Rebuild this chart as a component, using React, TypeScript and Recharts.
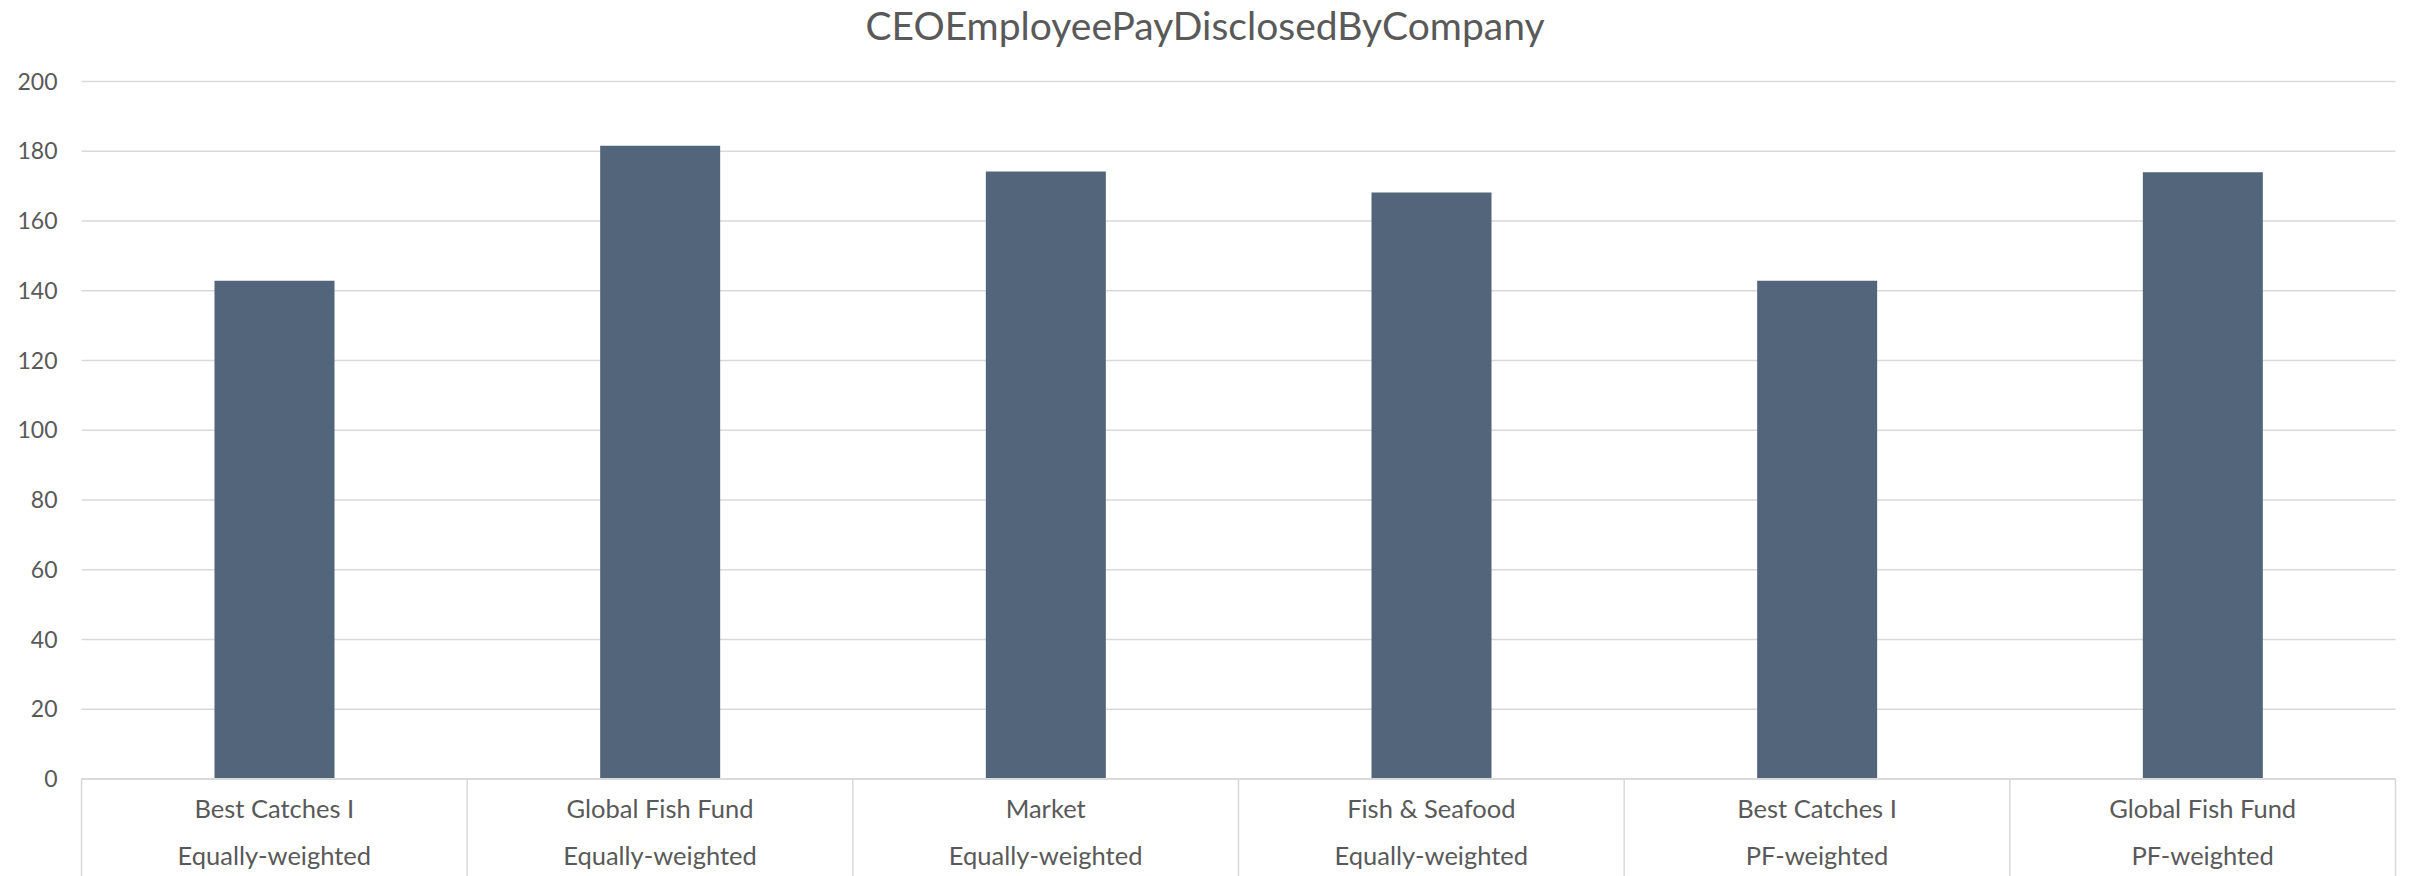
import { BarChart, Bar, XAxis, YAxis, CartesianGrid } from "recharts";

const categories = [
  "Best Catches I",
  "Global Fish Fund",
  "Market",
  "Fish & Seafood",
  "Best Catches I",
  "Global Fish Fund",
];
const weightings = [
  "Equally-weighted",
  "Equally-weighted",
  "Equally-weighted",
  "Equally-weighted",
  "PF-weighted",
  "PF-weighted",
];
const payValues = [142.9, 181.6, 174.2, 168.2, 142.9, 174.0];
const yTicks = [0, 20, 40, 60, 80, 100, 120, 140, 160, 180, 200];

const W = 2410;
const H = 876;
const PLOT_LEFT = 81.5;
const PLOT_RIGHT = 2395.5;
const BAND = (PLOT_RIGHT - PLOT_LEFT) / categories.length;
const TEXT = "#595959";
const GRID = "#d9d9d9";
const FONT = "Lato, 'Open Sans', sans-serif";

const data = categories.map((c, i) => ({
  key: i,
  category: c,
  weighting: weightings[i],
  value: payValues[i],
}));

function CategoryTick(props: any) {
  const { x, y, payload, index } = props;
  const i = payload.value as number;
  const last = index === categories.length - 1;
  return (
    <g>
      <line x1={x - BAND / 2} y1={y} x2={x - BAND / 2} y2={H} stroke={GRID} strokeWidth={1.5} />
      {last && (
        <line x1={x + BAND / 2} y1={y} x2={x + BAND / 2} y2={H} stroke={GRID} strokeWidth={1.5} />
      )}
      <text x={x} y={y + 29} textAnchor="middle" dominantBaseline="central" fill={TEXT} fontSize={25.5} fontFamily={FONT}>
        {categories[i]}
      </text>
      <text x={x} y={y + 76} textAnchor="middle" dominantBaseline="central" fill={TEXT} fontSize={25.5} fontFamily={FONT}>
        {weightings[i]}
      </text>
    </g>
  );
}

export default function App() {
  return (
    <div style={{ position: "absolute", left: 0, top: 0, width: W, height: H, background: "#fff", fontFamily: FONT }}>
      <div
        style={{
          position: "absolute",
          left: 0,
          top: 3,
          width: W,
          textAlign: "center",
          fontSize: 39,
          lineHeight: "44px",
          color: TEXT,
        }}
      >
        CEOEmployeePayDisclosedByCompany
      </div>
      <BarChart
        width={W}
        height={H}
        data={data}
        margin={{ top: 81.5, right: W - PLOT_RIGHT, bottom: 0, left: 0 }}
      >
        <CartesianGrid vertical={false} stroke={GRID} strokeWidth={1.5} />
        <XAxis
          dataKey="key"
          height={H - 779}
          axisLine={{ stroke: GRID, strokeWidth: 2 }}
          tickLine={false}
          tickSize={0}
          tickMargin={0}
          interval={0}
          tick={<CategoryTick />}
        />
        <YAxis
          width={PLOT_LEFT}
          domain={[0, 200]}
          ticks={yTicks}
          axisLine={false}
          tickLine={false}
          tickSize={0}
          tickMargin={24}
          tick={{ fill: TEXT, fontSize: 23, fontFamily: FONT }}
        />
        <Bar dataKey="value" fill="#52657b" barSize={120} isAnimationActive={false} />
      </BarChart>
    </div>
  );
}
